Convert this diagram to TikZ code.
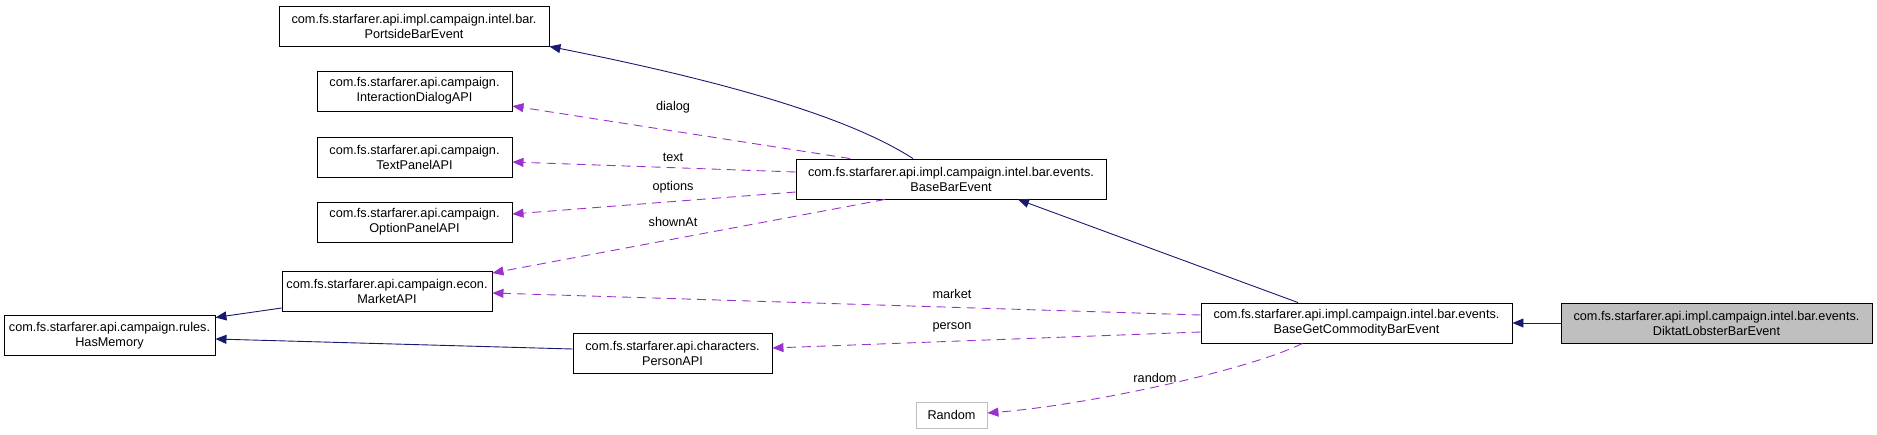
\documentclass[tikz,border=0pt]{standalone}
\usepackage{fontspec}
\setmainfont{Liberation Sans}
\usetikzlibrary{arrows.meta,calc}
\definecolor{inhcol}{HTML}{191970}
\definecolor{usecol}{HTML}{9A32CD}
\definecolor{grayfill}{HTML}{BFBFBF}
\newcommand{\api}{com.fs.starfarer.api}

\begin{document}
\begin{tikzpicture}[x=1pt,y=-1pt,
    cls/.style={draw=black,fill=white,line width=0.9pt,align=center,inner sep=0pt,
      minimum height=40pt,minimum width=#1,font=\fontsize{12.7}{15}\selectfont},
    lbl/.style={font=\fontsize{12.7}{15}\selectfont,inner sep=0pt},
    inh/.style={draw=inhcol,line width=0.9pt,-{Triangle[length=11pt,width=9pt]}},
    use/.style={draw=usecol,line width=0.9pt,dash pattern=on 9pt off 6pt,-{Triangle[length=11pt,width=9pt]}}]
  \useasboundingbox (0,0) rectangle (1877,434);
  % classes
  \node[cls=270] (port) at (414,26) {\api.impl.campaign.intel.bar.\\PortsideBarEvent};
  \node[cls=195] (dlg) at (414.5,91) {\api.campaign.\\InteractionDialogAPI};
  \node[cls=195] (txt) at (414.5,157) {\api.campaign.\\TextPanelAPI};
  \node[cls=195] (opt) at (414.5,222) {\api.campaign.\\OptionPanelAPI};
  \node[cls=210] (mkt) at (387,291.5) {\api.campaign.econ.\\MarketAPI};
  \node[cls=211] (mem) at (109.5,335.5) {\api.campaign.rules.\\HasMemory};
  \node[cls=310] (bbe) at (951,179) {\api.impl.campaign.intel.bar.events.\\BaseBarEvent};
  \node[cls=199] (per) at (672.5,353) {\api.characters.\\PersonAPI};
  \node[cls=71,draw=grayfill,minimum height=26pt] (rnd) at (951.5,415) {Random};
  \node[cls=311] (bgc) at (1356.5,323) {\api.impl.campaign.intel.bar.events.\\BaseGetCommodityBarEvent};
  \node[cls=311,fill=grayfill] (dik) at (1716.5,323) {\api.impl.campaign.intel.bar.events.\\DiktatLobsterBarEvent};
  % inheritance
  \draw[inh] (dik) -- (bgc);
  \draw[inh] ($(bgc.north)+(-58.5,0)$) -- ($(bbe.south)+(67,0)$);
  \draw[inh] ($(bbe.north)+(-38,0)$) .. controls +(-53,-34) and +(211,42) .. (port.south east);
  \draw[inh] ($(mkt.west)+(0,16.5)$) -- ($(mem.east)+(0,-18)$);
  \draw[inh] ($(per.west)+(0,-4)$) -- ($(mem.east)+(0,3.5)$);
  % members
  \draw[use] ($(bbe.north)+(-101,0)$) -- ($(dlg.east)+(0,15)$);
  \draw[use] ($(bbe.west)+(0,-7)$) -- ($(txt.east)+(0,5)$);
  \draw[use] ($(bbe.west)+(0,13)$) -- ($(opt.east)+(0,-8)$);
  \draw[use] ($(bbe.south)+(-66,0)$) -- ($(mkt.east)+(0,-18.5)$);
  \draw[use] ($(bgc.west)+(0,-8)$) -- ($(mkt.east)+(0,1.5)$);
  \draw[use] ($(bgc.west)+(0,9)$) -- ($(per.east)+(0,-5)$);
  \draw[use] ($(bgc.south)+(-54,0)$) .. controls +(-55,27) and +(100,-8) .. ($(rnd.east)+(0,-2)$);
  % labels
  \node[lbl] (ldlg) at (673,107) {dialog};
  \node[lbl] (ltxt) at (673,157) {text};
  \node[lbl] (lopt) at (673,187) {options};
  \node[lbl] (lshown) at (673,222) {shownAt};
  \node[lbl] (lmkt) at (952,294) {market};
  \node[lbl] (lper) at (952,327) {person};
  \node[lbl] (lrnd) at (1155,378) {random};
\end{tikzpicture}
\end{document}
